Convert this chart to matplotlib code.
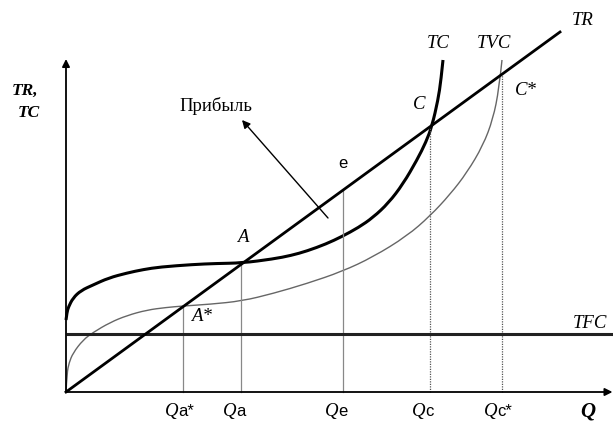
# TR / TC / TVC / TFC break-even diagram
import matplotlib
matplotlib.use("Agg")
import matplotlib.pyplot as plt
from matplotlib.path import Path
from matplotlib.patches import PathPatch

# output Q and cost values (arbitrary units)
tr_q = [0, 98.8]
tr_val = [0, 72.0]

tc_q = [0, 0.2, 0.5, 1.4, 3.0, 5.4, 8.5, 12.2, 15.5, 18.8, 25.4, 30.0, 35.2,
        41.4, 45.0, 48.2, 52.0, 55.2, 58.5, 61.4, 64.5, 67.4, 70.2, 72.0, 73.2, 74.4, 75.0, 75.4]
tc_val = [14.4, 16.0, 17.0, 18.8, 20.3, 21.4, 22.8, 23.8, 24.5, 25.0, 25.5, 25.7, 25.8,
          26.6, 27.3, 28.2, 29.6, 31.1, 32.9, 34.9, 37.8, 41.6, 46.4, 50.0, 53.2, 58.4, 62.4, 66.4]

tvc_q = [0, 0.2, 0.6, 1.4, 3.4, 5.4, 8.8, 12.2, 16.2, 20.0, 23.4, 28.8, 35.2, 41.4, 48.2,
         55.2, 61.4, 68.2, 72.8, 76.8, 80.2, 83.4, 85.4, 86.6, 87.2]
tvc_val = [0, 3.8, 5.8, 7.8, 10.4, 11.9, 13.9, 15.3, 16.4, 16.9, 17.2, 17.55, 18.2, 19.7, 21.7,
           24.1, 27.0, 31.2, 35.2, 39.5, 43.9, 49.3, 54.6, 60.6, 66.4]

tfc_q = [0, 109.4]
tfc_val = [11.6, 11.6]

q_marks = ["a*", "a", "e", "c", "c*"]
q_pos = [23.4, 35.0, 55.4, 72.8, 87.2]
q_top = [17.2, 25.6, 40.4, 53.2, 63.6]
q_dotted = [False, False, False, True, True]


def smooth_curve(ax, xs, ys, **kw):
    """ draw the read points as one smooth path (quadratic pieces between midpoints) """
    verts = [(xs[0], ys[0])]
    codes = [Path.MOVETO]
    for i in range(1, len(xs) - 1):
        mx = 0.5 * (xs[i] + xs[i + 1])
        my = 0.5 * (ys[i] + ys[i + 1])
        if i == len(xs) - 2:
            mx, my = xs[-1], ys[-1]
        verts += [(xs[i], ys[i]), (mx, my)]
        codes += [Path.CURVE3, Path.CURVE3]
    ax.add_patch(PathPatch(Path(verts, codes), fill=False, **kw))


fig = plt.figure(figsize=(6.13, 4.23), dpi=100)
ax = fig.add_axes([0, 0, 1, 1])
ax.set_xlim(-13.2, 109.4)
ax.set_ylim(-6.2, 78.4)
ax.axis("off")

serif = "Liberation Serif"
sans = "Liberation Sans"

# axes with arrows
ax.annotate("", xy=(0, 66.6), xytext=(0, 0),
            arrowprops=dict(arrowstyle="-|>", lw=1.3, color="black", mutation_scale=11, shrinkA=0, shrinkB=0))
ax.annotate("", xy=(109.3, 0), xytext=(0, 0),
            arrowprops=dict(arrowstyle="-|>", lw=1.3, color="black", mutation_scale=11, shrinkA=0, shrinkB=0))

# guide lines down to the Q axis
for q, top, dot in zip(q_pos, q_top, q_dotted):
    if dot:
        ax.plot([q, q], [0, top], color="#555555", lw=0.9, ls=(0, (1, 1)))
    else:
        ax.plot([q, q], [0, top], color="#888888", lw=0.9)

ax.plot(tfc_q, tfc_val, color="#222222", lw=2.2, solid_capstyle="butt")
smooth_curve(ax, tvc_q, tvc_val, edgecolor="#666666", lw=1.0)
smooth_curve(ax, tc_q, tc_val, edgecolor="black", lw=2.2)
ax.plot(tr_q, tr_val, color="black", lw=2.0)

# profit arrow
ax.annotate("", xy=(35.2, 54.4), xytext=(52.4, 34.8),
            arrowprops=dict(arrowstyle="-|>", lw=1.0, color="black", mutation_scale=12, shrinkA=0, shrinkB=0))
ax.text(30, 57.2, "Прибыль", family=serif, fontsize=13.5, ha="center", va="center")

# axis titles
ax.text(-8.2, 60.2, "TR,", family=serif, style="italic", weight="bold", fontsize=12.5, ha="center", va="center")
ax.text(-7.4, 55.8, "TC", family=serif, style="italic", weight="bold", fontsize=12.5, ha="center", va="center")
ax.text(104.4, -3.8, "Q", family=serif, style="italic", weight="bold", fontsize=15, ha="center", va="center")

# curve names and points
it = dict(family=serif, style="italic", fontsize=13.5, ha="center", va="center")
ax.text(74.4, 69.8, "TC", **it)
ax.text(85.6, 69.8, "TVC", **it)
ax.text(103.4, 74.4, "TR", **it)
ax.text(104.8, 13.8, "TFC", **it)
ax.text(35.4, 31.0, "A", **it)
ax.text(27.0, 15.2, "A*", **it)
ax.text(70.6, 57.6, "C", **it)
ax.text(92.0, 60.4, "C*", **it)
ax.text(55.4, 45.8, "e", family=sans, fontsize=12, ha="center", va="center")

# Q tick labels: script Q plus sans index
for q, m in zip(q_pos, q_marks):
    ax.annotate("Q", xy=(q, -3.8), xytext=(-3.5, 0), textcoords="offset points",
                family=serif, style="italic", fontsize=13.5, ha="right", va="center")
    ax.annotate(m, xy=(q, -3.8), xytext=(-3.5, 0), textcoords="offset points",
                family=sans, fontsize=12, ha="left", va="center")

fig.savefig("out.png", dpi=100)
